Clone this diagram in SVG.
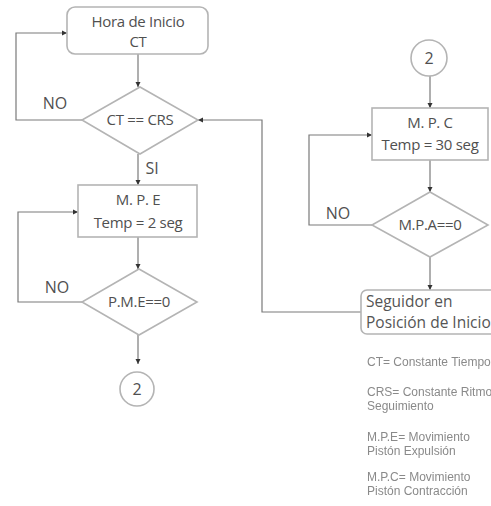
<svg xmlns="http://www.w3.org/2000/svg" width="491" height="506" viewBox="0 0 491 506">
  <defs>
    <marker id="arrow" markerUnits="userSpaceOnUse" markerWidth="6" markerHeight="6" refX="5" refY="3" orient="auto">
      <path d="M0,0.5 L5,3 L0,5.5 Z" fill="#333"/>
    </marker>
    <filter id="soft" x="-5%" y="-5%" width="110%" height="110%">
      <feGaussianBlur stdDeviation="0.55"/>
    </filter>
  </defs>
  <style>
    .shape { fill: #fff; stroke: #b4b4b4; stroke-width: 1.6; }
    .conn { fill: none; stroke: #7a7a7a; stroke-width: 1.2; }
    .lbl { font-family: "Open Sans", "Liberation Sans", sans-serif; font-size: 15px; fill: #505050; text-anchor: middle; letter-spacing: -0.3px; }
    .tag { font-family: "Open Sans", "Liberation Sans", sans-serif; font-size: 16px; fill: #505050; text-anchor: middle; }
    .big { font-family: "Open Sans", "Liberation Sans", sans-serif; font-size: 15.5px; fill: #555; }
    .legend { font-family: "Liberation Sans", Arial, sans-serif; font-size: 12px; fill: #8a8a8a; }
  </style>
  <rect width="491" height="506" fill="#fff"/>

  <g id="connectors">
    <path class="conn" d="M138,54 V87" marker-end="url(#arrow)"/>
    <path class="conn" d="M82,120 H16 V33 H67" marker-end="url(#arrow)"/>
    <path class="conn" d="M138,154 V185" marker-end="url(#arrow)"/>
    <path class="conn" d="M138,237 V269" marker-end="url(#arrow)"/>
    <path class="conn" d="M82,302 H18 V212 H78" marker-end="url(#arrow)"/>
    <path class="conn" d="M138,335 V364" marker-end="url(#arrow)"/>
    <path class="conn" d="M430,76 V108" marker-end="url(#arrow)"/>
    <path class="conn" d="M430,160 V192" marker-end="url(#arrow)"/>
    <path class="conn" d="M372,225 H309 V135 H372" marker-end="url(#arrow)"/>
    <path class="conn" d="M430,257 V290" marker-end="url(#arrow)"/>
    <path class="conn" d="M361,312 H262 V120 H198" marker-end="url(#arrow)"/>
    <text class="tag" x="55" y="109">NO</text>
    <text class="tag" x="152" y="174">SI</text>
    <text class="tag" x="57" y="293">NO</text>
    <text class="tag" x="338" y="219">NO</text>
  </g>

  <g id="hora-inicio">
    <rect class="shape" x="67" y="7" width="141" height="47" rx="8"/>
    <text class="lbl" x="138" y="27">Hora de Inicio</text>
    <text class="lbl" x="138" y="47">CT</text>
  </g>

  <g id="ct-crs">
    <path class="shape" d="M140,87 L198,120 L140,154 L82,120 Z"/>
    <text class="lbl" x="140" y="125">CT == CRS</text>
  </g>

  <g id="mpe">
    <rect class="shape" x="78" y="185" width="119" height="52"/>
    <text class="lbl" x="138" y="205">M. P. E</text>
    <text class="lbl" x="138" y="228">Temp = 2 seg</text>
  </g>

  <g id="pme">
    <path class="shape" d="M139,269 L197,302 L139,335 L82,302 Z"/>
    <text class="lbl" x="139" y="307">P.M.E==0</text>
  </g>

  <g id="conector-2-out">
    <circle class="shape" cx="137" cy="389" r="17"/>
    <text class="tag" x="137" y="395">2</text>
  </g>

  <g id="conector-2-in">
    <circle class="shape" cx="429" cy="58" r="18"/>
    <text class="tag" x="429" y="64">2</text>
  </g>

  <g id="mpc">
    <rect class="shape" x="372" y="108" width="116" height="52"/>
    <text class="lbl" x="430" y="128">M. P. C</text>
    <text class="lbl" x="430" y="150">Temp = 30 seg</text>
  </g>

  <g id="mpa">
    <path class="shape" d="M430,192 L488,225 L430,257 L372,225 Z"/>
    <text class="lbl" x="430" y="230">M.P.A==0</text>
  </g>

  <g id="seguidor">
    <rect class="shape" x="361" y="290" width="150" height="44" rx="6"/>
    <text class="big" x="366" y="307">Seguidor en</text>
    <text class="big" x="366" y="328">Posición de Inicio</text>
  </g>

  <g id="leyenda" filter="url(#soft)">
    <text class="legend" x="367" y="366">CT= Constante Tiempo</text>
    <text class="legend" x="367" y="396">CRS= Constante Ritmo</text>
    <text class="legend" x="367" y="410">Seguimiento</text>
    <text class="legend" x="367" y="441">M.P.E= Movimiento</text>
    <text class="legend" x="367" y="455">Pistón Expulsión</text>
    <text class="legend" x="367" y="481">M.P.C= Movimiento</text>
    <text class="legend" x="367" y="495">Pistón Contracción</text>
  </g>
</svg>
